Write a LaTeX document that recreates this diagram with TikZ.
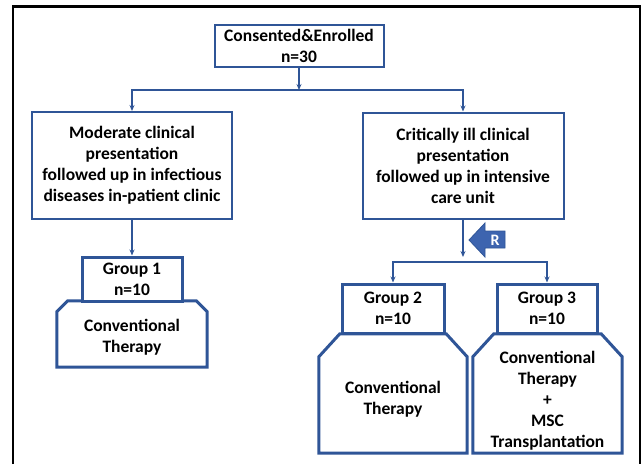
\documentclass[tikz,border=0pt]{standalone}
\usepackage{fontspec}
\setmainfont{Carlito}
\usetikzlibrary{arrows.meta,calc}
\definecolor{flowblue}{RGB}{47,85,151}
\definecolor{markblue}{RGB}{61,100,175}
\tikzset{
  box/.style={draw=flowblue, line width=2pt, fill=white, align=center, inner sep=0pt,
    font=\fontsize{17.5}{21}\selectfont\bfseries},
  groupbox/.style={box, line width=3pt},
  tray/.style={inner sep=0pt},
  traytext/.style={align=center, inner sep=0pt, font=\fontsize{17.5}{21}\selectfont\bfseries},
  trayline/.style={draw=flowblue, line width=3pt, line join=miter},
  flow/.style={draw=flowblue, line width=1.5pt},
  arr/.style={flow, -{Stealth[length=6pt,width=5pt]}},
}
% chamfered outline round a tray node: name, chamfer x, chamfer y
\newcommand{\trayoutline}[3]{%
  \draw[trayline] (#1.south west) -- ($(#1.north west)+(0,#3)$) -- ($(#1.north west)+(#2,0)$)
    -- ($(#1.north east)+(-#2,0)$) -- ($(#1.north east)+(0,#3)$) -- (#1.south east) -- cycle;}
\begin{document}
\begin{tikzpicture}[x=1pt, y=-1pt]
\useasboundingbox (0,0) rectangle (642,464);
%frame:
\draw[line width=2.5pt] (13,464) -- (13,6.5) -- (640,6.5) -- (640,464);
%enrolment:
\node[box, minimum width=169, minimum height=42] (enrol) at (299,46) {Consented\&Enrolled\\n=30};
\coordinate (split) at (299,90);
%clinical presentation:
\node[box, minimum width=200, minimum height=107] (moderate) at (132,165.5)
  {Moderate clinical\\presentation\\followed up in infectious\\diseases in-patient clinic};
\node[box, minimum width=201, minimum height=106] (critical) at (463,165.5)
  {Critically ill clinical\\presentation\\followed up in intensive\\care unit};
\draw[arr] (enrol.south) -- (split);
\draw[arr] (split) -| (moderate.north);
\draw[arr] (split) -| (critical.north);
%group 1:
\node[tray, minimum width=150, minimum height=66] (therapy1) at (132,334) {};
\trayoutline{therapy1}{11}{11}
\node[traytext] (therapy1text) at ($(therapy1)+(0,3.5)$) {Conventional\\Therapy};
\node[groupbox, minimum width=100, minimum height=44] (group1) at (132,279) {Group 1\\n=10};
\draw[arr] (moderate.south) -- (group1.north);
%randomisation:
\coordinate (rtip) at (463,257);
\coordinate (split2) at (463,262);
\draw[arr] (critical.south) -- (rtip);
\fill[markblue, draw=flowblue, line width=0.8pt] (469,240) -- (485,223) -- (485,231) -- (505,231)
  -- (505,248) -- (485,248) -- (485,257) -- cycle;
\node[text=white, font=\fontsize{16}{18}\selectfont\bfseries] (rmark) at (495,240) {R};
%groups 2 and 3:
\node[tray, minimum width=148, minimum height=119] (therapy2) at (393,393.5) {};
\node[tray, minimum width=149, minimum height=119] (therapy3) at (547.5,393.5) {};
\trayoutline{therapy2}{21}{23}
\trayoutline{therapy3}{21}{23}
\node[traytext] (therapy2text) at ($(therapy2)+(0,6)$) {Conventional\\Therapy};
\node[traytext] (therapy3text) at ($(therapy3)+(0,7)$)
  {Conventional\\Therapy\\+\\MSC\\Transplantation};
\node[groupbox, minimum width=102, minimum height=49] (group2) at (393,308.5) {Group 2\\n=10};
\node[groupbox, minimum width=100, minimum height=49] (group3) at (547,308.5) {Group 3\\n=10};
\draw[arr] (split2) -| (group2.north);
\draw[arr] (split2) -| (group3.north);
\end{tikzpicture}
\end{document}
